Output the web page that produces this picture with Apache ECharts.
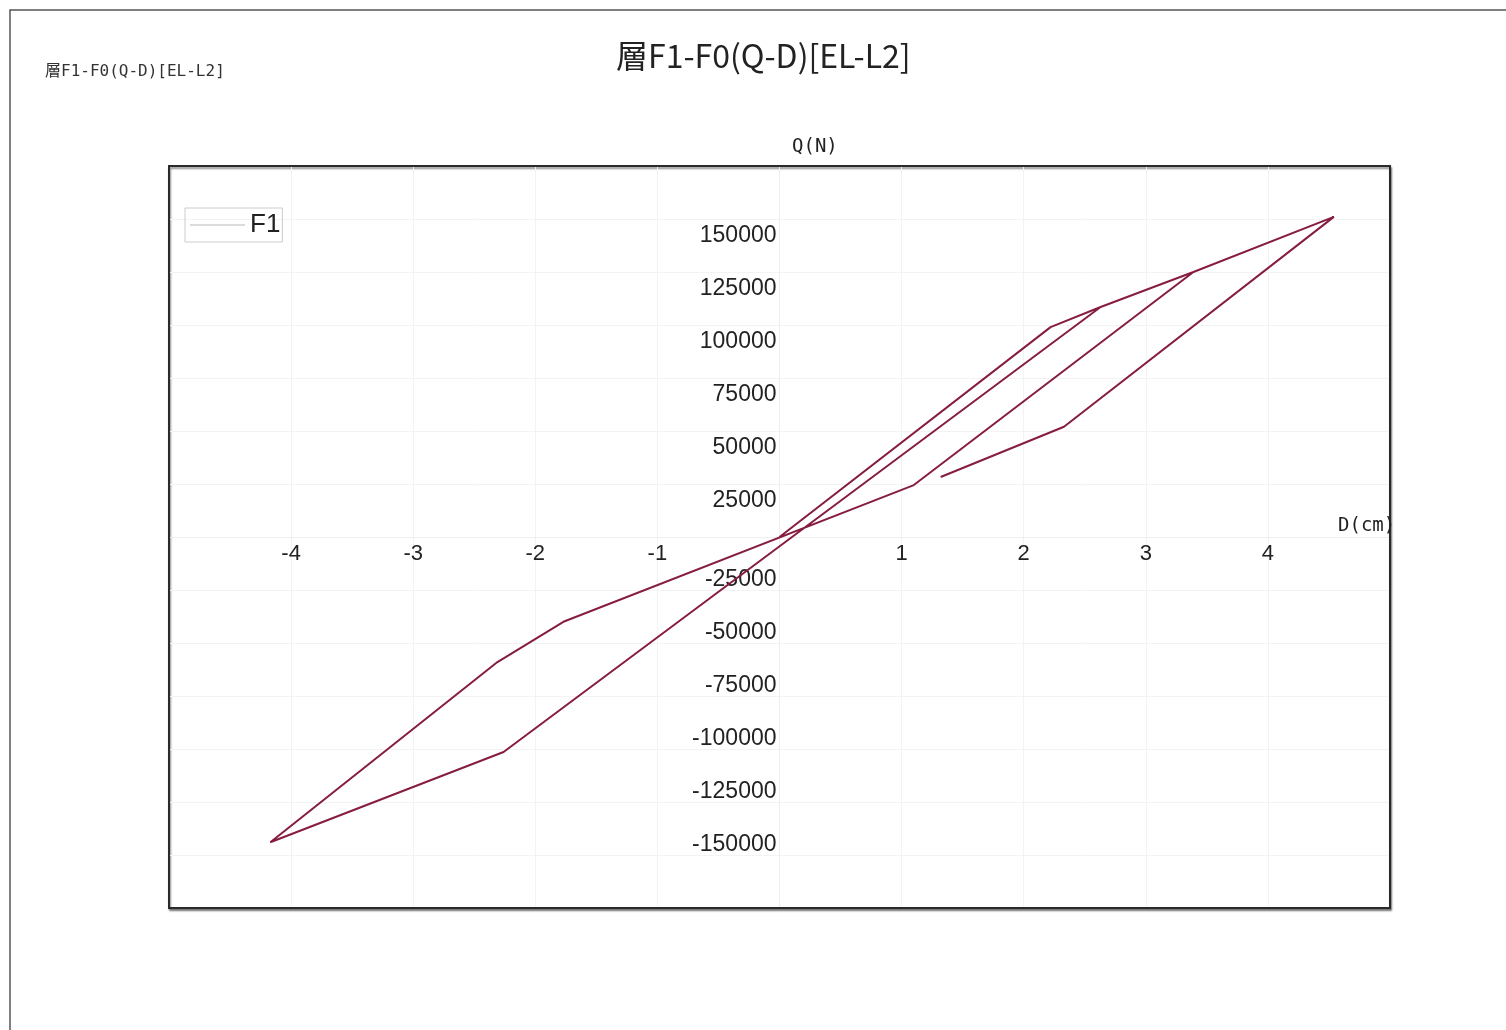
<!DOCTYPE html>
<html>
<head>
<meta charset="utf-8">
<title>層F1-F0(Q-D)[EL-L2]</title>
<script src="https://cdn.jsdelivr.net/npm/echarts@6/dist/echarts.min.js"></script>
<style>
  html, body { margin: 0; padding: 0; background: #fff; }
  #qdChart { width: 1506px; height: 1030px; }
</style>
</head>
<body>
<div id="qdChart"></div>
<script>
// 層せん断力 - 層間変位 (F1)
var seriesName = 'F1';
var dispD = [0, 2.22, 2.63, 3.39, 1.10, -1.77, -2.31, -4.17, -2.26, 2.63, 3.39, 4.54, 2.33, 1.32];
var shearQ = [0, 99000, 108500, 125000, 24500, -40000, -59000, -144000, -101400, 108500, 125000, 151000, 52000, 28300];
var xTicks = [-4, -3, -2, -1, 1, 2, 3, 4];
var yTicks = [150000, 125000, 100000, 75000, 50000, 25000, -25000, -50000, -75000, -100000, -125000, -150000];

var lineData = [];
for (var i = 0; i < dispD.length; i++) {
    lineData.push([dispD[i], shearQ[i]]);
}

var chart = echarts.init(document.getElementById('qdChart'));

// grid box: x -5..5, y -175000..175000 ; axes cross at the origin
var gridLeft = 169, gridTop = 166, gridW = 1221, gridH = 742;

var option = {
    animation: false,
    backgroundColor: '#fff',
    title: {
        text: '層F1-F0(Q-D)[EL-L2]',
        left: 611,
        top: 35,
        textStyle: {
            fontFamily: 'Noto Sans CJK JP',
            fontSize: 32,
            fontWeight: 'normal',
            color: '#222'
        }
    },
    legend: {
        left: 185,
        top: 208,
        padding: [4, 2, 4, 5],
        borderColor: '#ccc',
        borderWidth: 1,
        borderRadius: 0,
        icon: 'rect',
        itemWidth: 55,
        itemHeight: 1,
        data: [{ name: seriesName, itemStyle: { color: '#b8b8b8' } }],
        textStyle: {
            fontFamily: 'Liberation Sans',
            fontSize: 26,
            color: '#222'
        }
    },
    graphic: [
        {
            type: 'rect',
            silent: true,
            shape: { x: 10, y: 10, width: 1510, height: 1040 },
            style: { fill: 'none', stroke: '#555', lineWidth: 1.5 }
        },
        {
            // plot frame drawn above the split lines
            type: 'rect',
            silent: true,
            z: 100,
            shape: { x: gridLeft, y: gridTop, width: gridW, height: gridH },
            style: { fill: 'none', stroke: '#2a2a2a', lineWidth: 2 }
        },
        {
            type: 'text',
            left: 45,
            top: 64,
            style: {
                text: '層F1-F0(Q-D)[EL-L2]',
                font: '16px "DejaVu Sans Mono", "Noto Sans CJK JP"',
                fill: '#333'
            }
        },
        {
            type: 'text',
            left: 792,
            top: 138,
            style: {
                text: 'Q(N)',
                font: '19px "DejaVu Sans Mono", "Noto Sans CJK JP"',
                fill: '#222'
            }
        },
        {
            type: 'text',
            left: 1338,
            top: 517,
            z: 110,
            style: {
                text: 'D(cm)',
                font: '19px "DejaVu Sans Mono", "Noto Sans CJK JP"',
                fill: '#222'
            }
        }
    ],
    grid: {
        left: gridLeft,
        top: gridTop,
        width: gridW,
        height: gridH,
        show: true,
        backgroundColor: '#fff',
        borderColor: '#2a2a2a',
        borderWidth: 2,
        shadowColor: 'rgba(0,0,0,0.45)',
        shadowBlur: 2,
        shadowOffsetX: 1,
        shadowOffsetY: 2
    },
    xAxis: {
        type: 'value',
        min: -5,
        max: 5,
        interval: 1,
        position: 'bottom',
        offset: -gridH / 2,
        axisLine: { onZero: false, lineStyle: { color: '#eeeeee', width: 1 } },
        axisTick: { show: false },
        splitLine: { show: true, showMinLine: false, showMaxLine: false, lineStyle: { color: '#f3f3f3' } },
        axisLabel: {
            margin: 6,
            fontFamily: 'Liberation Sans',
            fontSize: 22,
            color: '#222',
            formatter: function (v) {
                return xTicks.indexOf(v) >= 0 ? String(v) : '';
            }
        }
    },
    yAxis: {
        type: 'value',
        min: -175000,
        max: 175000,
        interval: 25000,
        position: 'left',
        offset: -gridW / 2,
        axisLine: { onZero: false, lineStyle: { color: '#eeeeee', width: 1 } },
        axisTick: { show: false },
        splitLine: { show: true, showMinLine: false, showMaxLine: false, lineStyle: { color: '#f3f3f3' } },
        axisLabel: {
            margin: 3,
            fontFamily: 'Liberation Sans',
            fontSize: 23,
            color: '#222',
            formatter: function (v) {
                if (yTicks.indexOf(v) < 0) return '';
                return v > 0 ? '{p|' + v + '}' : '{n|' + v + '}';
            },
            rich: {
                p: { fontFamily: 'Liberation Sans', fontSize: 23, color: '#222', padding: [34, 0, 0, 0] },
                n: { fontFamily: 'Liberation Sans', fontSize: 23, color: '#222', padding: [0, 0, 20, 0] }
            }
        }
    },
    series: [
        {
            name: seriesName,
            type: 'line',
            data: lineData,
            showSymbol: false,
            symbol: 'none',
            lineStyle: { color: '#861d40', width: 2 },
            itemStyle: { color: '#861d40' },
            z: 5
        }
    ]
};

chart.setOption(option);
</script>
</body>
</html>
